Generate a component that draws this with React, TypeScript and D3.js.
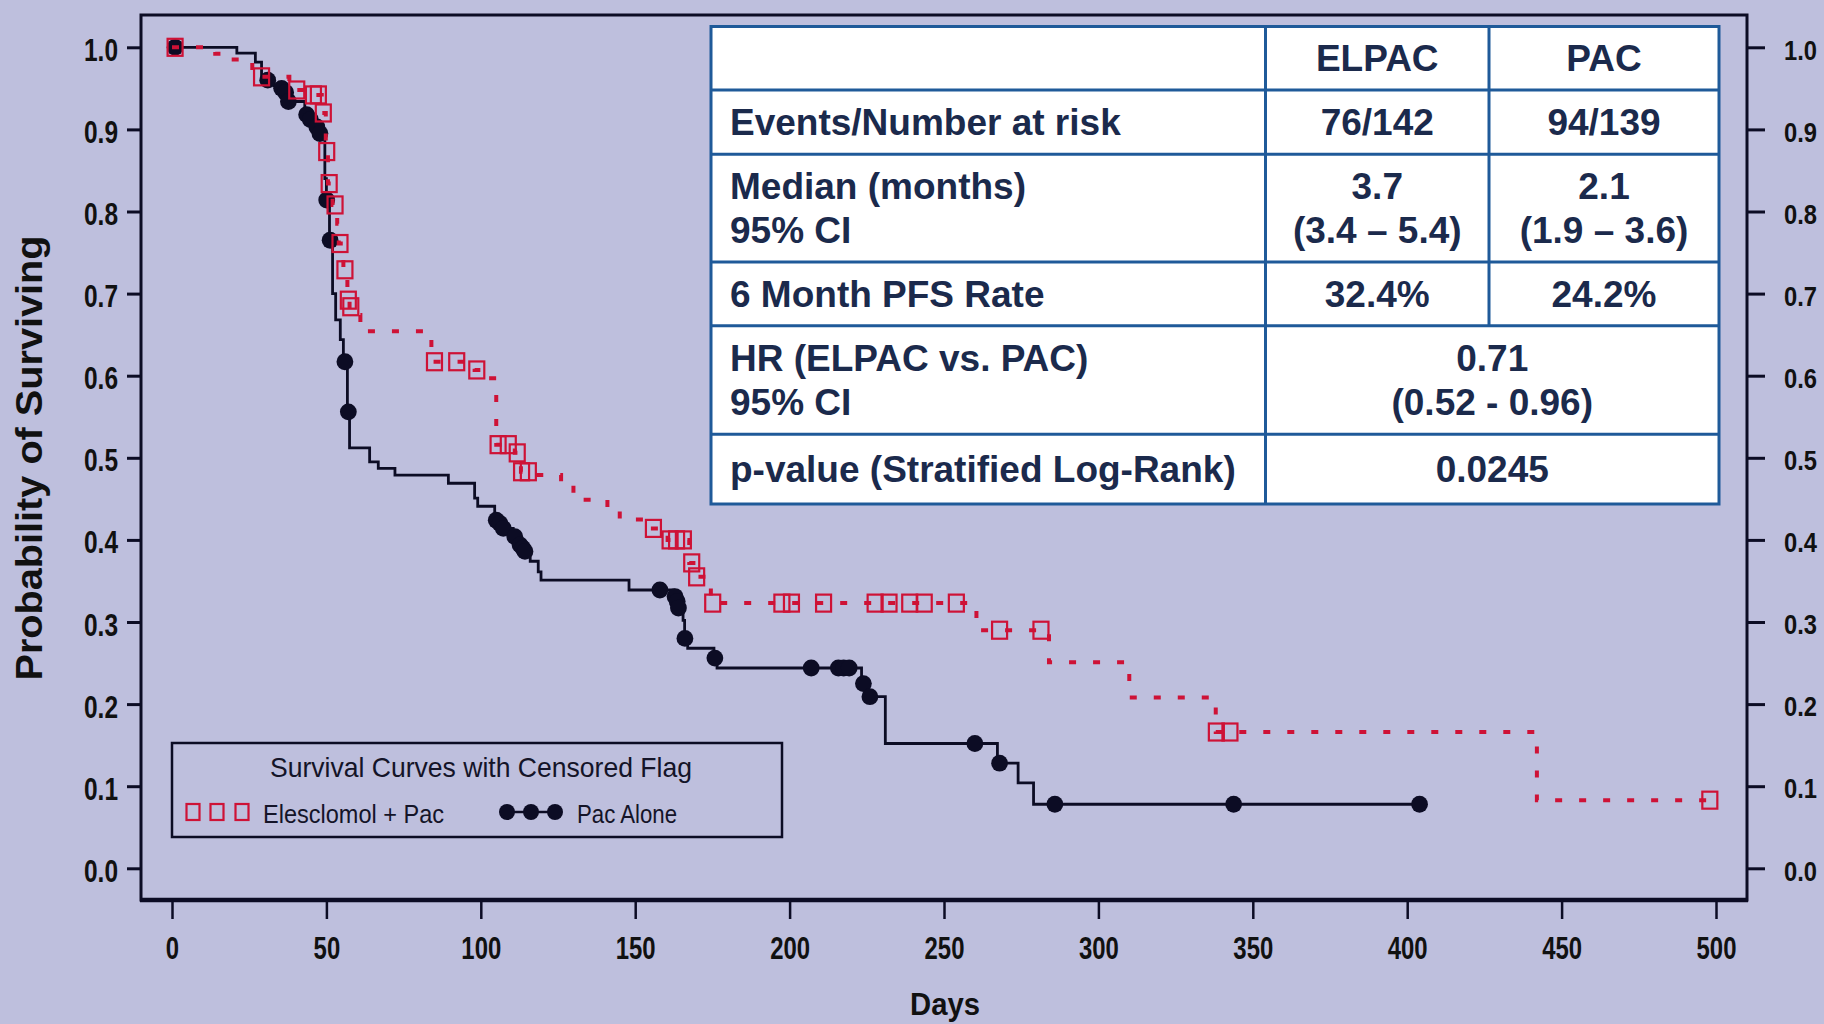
import React, { useEffect, useRef } from 'react';
import * as d3 from 'd3';

// axis ticks
const xTicks = [0, 50, 100, 150, 200, 250, 300, 350, 400, 450, 500];
const yTicks = [0, 0.1, 0.2, 0.3, 0.4, 0.5, 0.6, 0.7, 0.8, 0.9, 1.0];

// Kaplan-Meier steps [day, survival]
const pacSteps: [number, number][] = [
  [0, 1.0], [21, 0.993], [27, 0.982], [29, 0.962], [33, 0.953], [36.5, 0.945],
  [38, 0.934], [43, 0.918], [46.5, 0.903], [47.5, 0.895], [49.5, 0.84], [50, 0.814],
  [51, 0.765], [52, 0.7], [53, 0.668], [54.5, 0.644], [55.5, 0.617], [56.8, 0.556],
  [57.5, 0.512], [64, 0.495], [66.8, 0.487], [72.2, 0.479], [89.5, 0.469], [98, 0.451],
  [99, 0.441], [104.5, 0.424], [107, 0.414], [110.5, 0.404], [112.5, 0.394], [114, 0.386],
  [116, 0.374], [118.6, 0.361], [119.5, 0.351], [148, 0.339], [162.5, 0.331], [164, 0.317],
  [165.5, 0.302], [166, 0.28], [167, 0.268], [175.5, 0.256], [176.5, 0.244], [223.3, 0.225],
  [225.5, 0.209], [231, 0.152], [267.3, 0.128], [274, 0.104], [279, 0.078], [404, 0.078],
];

const pacCensored: [number, number][] = [
  [1, 1.0], [31, 0.96], [35.5, 0.95], [36.8, 0.945], [37.7, 0.934], [43.6, 0.918],
  [44.8, 0.912], [46.9, 0.903], [47.9, 0.895], [50.1, 0.814], [51.2, 0.765], [56, 0.617],
  [57.1, 0.556], [105, 0.424], [106.2, 0.42], [107.3, 0.414], [111, 0.404], [112.7, 0.394],
  [113.6, 0.39], [114.3, 0.386], [158, 0.339], [162.9, 0.331], [163.6, 0.325], [164, 0.317],
  [166.1, 0.28], [175.8, 0.256], [207, 0.244], [215.8, 0.244], [217.5, 0.244], [219.3, 0.244],
  [223.9, 0.225], [226, 0.209], [260, 0.152], [268, 0.128], [285.9, 0.078], [343.8, 0.078],
  [404, 0.078],
];

const elpacSteps: [number, number][] = [
  [0, 1.0], [14, 0.992], [19, 0.985], [26, 0.97], [29, 0.964], [38, 0.948], [45, 0.942],
  [48.5, 0.92], [49.8, 0.873], [50.5, 0.834], [52, 0.808], [53.5, 0.785], [54, 0.761],
  [55.5, 0.729], [56.8, 0.692], [57.5, 0.684], [59, 0.674], [61, 0.654], [84, 0.617],
  [98, 0.607], [101, 0.597], [105, 0.516], [111, 0.506], [113, 0.483], [117, 0.479],
  [126, 0.467], [130, 0.449], [141, 0.436], [145, 0.425], [155, 0.414], [160.5, 0.4],
  [167.5, 0.372], [169.5, 0.355], [174.5, 0.323], [260.5, 0.29], [284, 0.251], [310, 0.208],
  [338, 0.166], [442, 0.083], [498, 0.083],
];

const elpacCensored: [number, number][] = [
  [1, 1.0], [29, 0.964], [40.4, 0.948], [45.8, 0.942], [47.4, 0.942], [49, 0.92],
  [50.1, 0.873], [50.9, 0.834], [52.8, 0.808], [54.4, 0.761], [56, 0.729], [57.1, 0.692],
  [57.9, 0.684], [85, 0.617], [92.2, 0.617], [98.7, 0.607], [105.6, 0.516], [108.9, 0.516],
  [111.8, 0.506], [113.2, 0.483], [115.4, 0.483], [155.9, 0.414], [161.3, 0.4], [163.4, 0.4],
  [165.6, 0.4], [168.3, 0.372], [169.9, 0.355], [175.1, 0.323], [197.5, 0.323], [200.6, 0.323],
  [211, 0.323], [227.7, 0.323], [232.2, 0.323], [238.9, 0.323], [243.6, 0.323], [254, 0.323],
  [268, 0.29], [281.4, 0.29], [338.2, 0.166], [342.6, 0.166], [498, 0.083],
];

// summary table
const tableHeader = ['', 'ELPAC', 'PAC'];
const tableRows: { label: string[]; elpac: string[]; pac?: string[] }[] = [
  { label: ['Events/Number at risk'], elpac: ['76/142'], pac: ['94/139'] },
  { label: ['Median (months)', '95% CI'], elpac: ['3.7', '(3.4 – 5.4)'], pac: ['2.1', '(1.9 – 3.6)'] },
  { label: ['6 Month PFS Rate'], elpac: ['32.4%'], pac: ['24.2%'] },
  { label: ['HR (ELPAC vs. PAC)', '95% CI'], elpac: ['0.71', '(0.52 - 0.96)'] },
  { label: ['p-value (Stratified Log-Rank)'], elpac: ['0.0245'] },
];

const legendTitle = 'Survival Curves with Censored Flag';
const legendElpac = 'Elesclomol + Pac';
const legendPac = 'Pac Alone';

const W = 1824;
const H = 1024;
const BG = '#BEBFDD';
const INK = '#0C0C24';
const RED = '#CE1236';
const FONT = '"Liberation Sans", Arial, Helvetica, sans-serif';

// table geometry
const colX = [711, 1265.5, 1489, 1719];
const rowY = [26.5, 90, 154.3, 262, 325.7, 434.3, 504];
const TABLE_BLUE = '#1F5A99';
const TABLE_TEXT = '#1B2A4C';

const SurvivalChart = () => {
  const gRef = useRef<SVGGElement | null>(null);

  useEffect(() => {
    const g = d3.select(gRef.current);
    g.selectAll('*').remove();

    const frameLeft = 141;
    const frameRight = 1747;
    const frameTop = 15;
    const frameBottom = 900;

    const x = d3.scaleLinear([0, 500], [172, 1716]);
    const y = d3.scaleLinear([0, 1], [868.3, 47.3]);

    // frame
    g.append('rect')
      .attr('x', frameLeft).attr('y', frameTop)
      .attr('width', frameRight - frameLeft).attr('height', frameBottom - frameTop)
      .attr('fill', 'none').attr('stroke', INK).attr('stroke-width', 3);
    g.append('line')
      .attr('x1', frameLeft - 1).attr('x2', frameRight + 1)
      .attr('y1', frameBottom).attr('y2', frameBottom)
      .attr('stroke', INK).attr('stroke-width', 4.5);

    // left axis
    const left = g.append('g')
      .attr('transform', `translate(${frameLeft},0)`)
      .call(d3.axisLeft(y).tickValues(yTicks).tickFormat(d3.format('.1f')).tickSize(14).tickPadding(9));
    left.select('.domain').remove();
    left.selectAll('line').attr('stroke', INK).attr('stroke-width', 3);
    left.selectAll('text')
      .attr('font-family', FONT).attr('font-size', 31).attr('font-weight', 'bold')
      .attr('fill', '#111').attr('dy', '0.42em')
      .attr('textLength', 34).attr('lengthAdjust', 'spacingAndGlyphs');

    // right axis (labels kept inside the page edge)
    const right = g.append('g')
      .attr('transform', `translate(${frameRight},0)`)
      .call(d3.axisRight(y).tickValues(yTicks).tickFormat(d3.format('.1f')).tickSize(18).tickPadding(19));
    right.select('.domain').remove();
    right.selectAll('line').attr('stroke', INK).attr('stroke-width', 3);
    right.selectAll('text')
      .attr('font-family', FONT).attr('font-size', 28).attr('font-weight', 'bold')
      .attr('fill', '#111').attr('dy', '0.42em')
      .attr('textLength', 33).attr('lengthAdjust', 'spacingAndGlyphs');

    // bottom axis
    const bottom = g.append('g')
      .attr('transform', `translate(0,${frameBottom})`)
      .call(d3.axisBottom(x).tickValues(xTicks).tickFormat(d3.format('d')).tickSize(19).tickPadding(17));
    bottom.select('.domain').remove();
    bottom.selectAll('line').attr('stroke', INK).attr('stroke-width', 2.5);
    bottom.selectAll<SVGTextElement, number>('text')
      .attr('font-family', FONT).attr('font-size', 32).attr('font-weight', 'bold')
      .attr('fill', '#111')
      .attr('textLength', d => String(d).length * 13.3).attr('lengthAdjust', 'spacingAndGlyphs');

    // axis titles
    g.append('text')
      .attr('transform', 'translate(42,458) rotate(-90)')
      .attr('text-anchor', 'middle')
      .attr('font-family', FONT).attr('font-size', 36).attr('font-weight', 'bold').attr('fill', '#111')
      .attr('textLength', 445).attr('lengthAdjust', 'spacingAndGlyphs')
      .text('Probability of Surviving');
    g.append('text')
      .attr('x', 945).attr('y', 1015)
      .attr('text-anchor', 'middle')
      .attr('font-family', FONT).attr('font-size', 32).attr('font-weight', 'bold').attr('fill', '#111')
      .attr('textLength', 70).attr('lengthAdjust', 'spacingAndGlyphs')
      .text('Days');

    const line = d3.line<[number, number]>()
      .x(d => x(d[0]))
      .y(d => y(d[1]))
      .curve(d3.curveStepAfter);

    // PAC alone: solid line, filled circles
    g.append('path')
      .attr('d', line(pacSteps))
      .attr('fill', 'none').attr('stroke', INK).attr('stroke-width', 2.8);
    g.append('g').selectAll('circle')
      .data(pacCensored).join('circle')
      .attr('cx', d => x(d[0])).attr('cy', d => y(d[1])).attr('r', 8.4)
      .attr('fill', INK);

    // Elesclomol + Pac: dotted line, open squares
    g.append('path')
      .attr('d', line(elpacSteps))
      .attr('fill', 'none').attr('stroke', RED).attr('stroke-width', 4)
      .attr('stroke-dasharray', '7 17');
    g.append('g').selectAll('rect')
      .data(elpacCensored).join('rect')
      .attr('x', d => x(d[0]) - 7.5).attr('y', d => y(d[1]) - 8.5)
      .attr('width', 15).attr('height', 17)
      .attr('fill', 'none').attr('stroke', RED).attr('stroke-width', 2.2);

    // legend
    const lg = g.append('g');
    lg.append('rect')
      .attr('x', 172).attr('y', 743).attr('width', 610).attr('height', 94)
      .attr('fill', 'none').attr('stroke', INK).attr('stroke-width', 2.5);
    lg.append('text')
      .attr('x', 481).attr('y', 777).attr('text-anchor', 'middle')
      .attr('font-family', FONT).attr('font-size', 28).attr('fill', '#141428')
      .attr('textLength', 422).attr('lengthAdjust', 'spacingAndGlyphs')
      .text(legendTitle);
    lg.selectAll('rect.sym')
      .data([193, 217, 242]).join('rect')
      .attr('class', 'sym')
      .attr('x', d => d - 6.5).attr('y', 804).attr('width', 13).attr('height', 16)
      .attr('fill', 'none').attr('stroke', RED).attr('stroke-width', 2.2);
    lg.append('text')
      .attr('x', 263).attr('y', 823)
      .attr('font-family', FONT).attr('font-size', 25).attr('fill', '#141428')
      .attr('textLength', 181).attr('lengthAdjust', 'spacingAndGlyphs')
      .text(legendElpac);
    lg.append('line')
      .attr('x1', 500).attr('x2', 562).attr('y1', 812).attr('y2', 812)
      .attr('stroke', INK).attr('stroke-width', 2.5);
    lg.selectAll('circle')
      .data([507, 531, 555]).join('circle')
      .attr('cx', d => d).attr('cy', 812).attr('r', 8)
      .attr('fill', INK);
    lg.append('text')
      .attr('x', 577).attr('y', 823)
      .attr('font-family', FONT).attr('font-size', 25).attr('fill', '#141428')
      .attr('textLength', 100).attr('lengthAdjust', 'spacingAndGlyphs')
      .text(legendPac);
  }, []);

  // table rows: header + data rows
  const lineGap = 44;
  const textLines = (lines: string[], cx: number, top: number, bottom: number, anchor: string) => {
    const mid = (top + bottom) / 2 + 13;
    const start = mid - ((lines.length - 1) * lineGap) / 2;
    return lines.map((t, i) => (
      <text key={i} x={cx} y={start + i * lineGap} textAnchor={anchor}
        fontFamily={FONT} fontSize={37} fontWeight="bold" fill={TABLE_TEXT}>{t}</text>
    ));
  };

  return (
    <svg width={W} height={H} viewBox={`0 0 ${W} ${H}`}
      style={{ position: 'absolute', left: 0, top: 0, display: 'block' }}>
      <rect x={0} y={0} width={W} height={H} fill={BG} />
      <g ref={gRef} />
      <g>
        <rect x={colX[0]} y={rowY[0]} width={colX[3] - colX[0]} height={rowY[6] - rowY[0]}
          fill="#FFFFFF" stroke={TABLE_BLUE} strokeWidth={3} />
        {rowY.slice(1, 6).map((ry, i) => (
          <line key={i} x1={colX[0]} x2={colX[3]} y1={ry} y2={ry} stroke={TABLE_BLUE} strokeWidth={3} />
        ))}
        <line x1={colX[1]} x2={colX[1]} y1={rowY[0]} y2={rowY[6]} stroke={TABLE_BLUE} strokeWidth={3} />
        <line x1={colX[2]} x2={colX[2]} y1={rowY[0]} y2={rowY[4]} stroke={TABLE_BLUE} strokeWidth={3} />
        {textLines([tableHeader[1]], (colX[1] + colX[2]) / 2, rowY[0], rowY[1], 'middle')}
        {textLines([tableHeader[2]], (colX[2] + colX[3]) / 2, rowY[0], rowY[1], 'middle')}
        {tableRows.map((r, i) => (
          <g key={i}>
            {textLines(r.label, colX[0] + 19, rowY[i + 1], rowY[i + 2], 'start')}
            {r.pac
              ? textLines(r.elpac, (colX[1] + colX[2]) / 2, rowY[i + 1], rowY[i + 2], 'middle')
              : textLines(r.elpac, (colX[1] + colX[3]) / 2, rowY[i + 1], rowY[i + 2], 'middle')}
            {r.pac && textLines(r.pac, (colX[2] + colX[3]) / 2, rowY[i + 1], rowY[i + 2], 'middle')}
          </g>
        ))}
      </g>
    </svg>
  );
};

export default function App() {
  return <SurvivalChart />;
}
